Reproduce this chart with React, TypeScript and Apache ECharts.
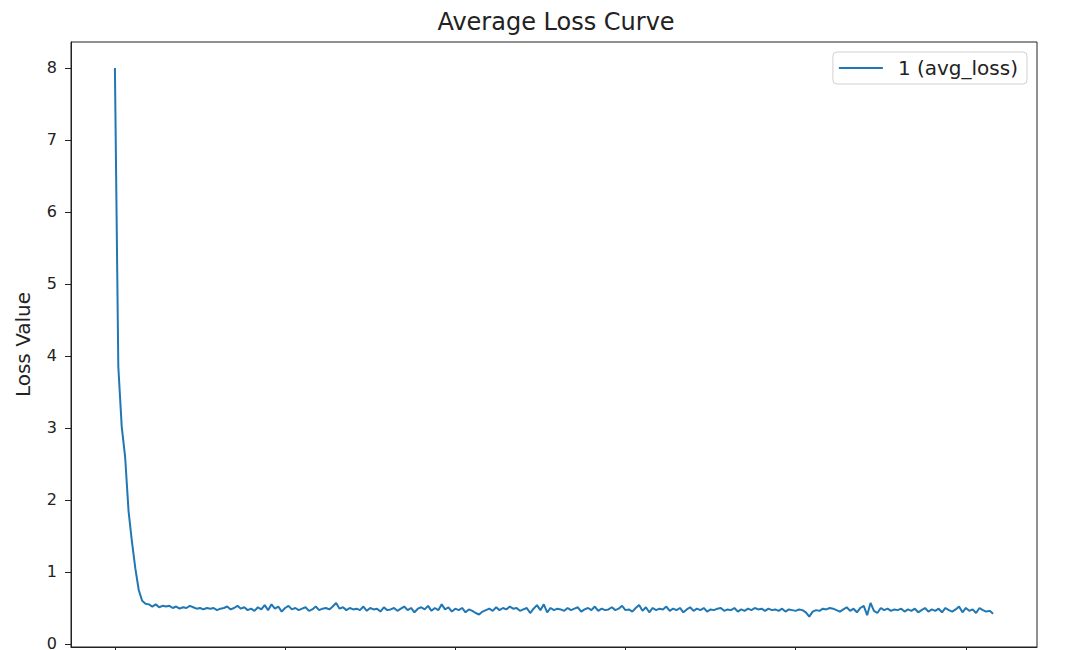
import React, { useEffect, useRef } from "react";
import * as echarts from "echarts";

const seriesName = "1 (avg_loss)";
const yTicks = [0, 1, 2, 3, 4, 5, 6, 7, 8];
const xTicks = [0, 50, 100, 150, 200, 250];
const avgLoss = [
  8.0, 3.85, 3.02, 2.6, 1.85, 1.42, 1.05, 0.75, 0.6, 0.56, 0.55,
  0.52, 0.55, 0.51, 0.53, 0.52, 0.53, 0.50, 0.52, 0.49, 0.51, 0.50, 0.53, 0.51, 0.49, 0.50, 0.48, 0.50, 0.49, 0.50, 0.47,
  0.49, 0.50, 0.52, 0.48, 0.50, 0.53, 0.49, 0.51, 0.47, 0.49, 0.46, 0.51, 0.48, 0.54, 0.47, 0.55, 0.49, 0.52, 0.45, 0.50,
  0.53, 0.48, 0.50, 0.47, 0.49, 0.51, 0.46, 0.48, 0.52, 0.47, 0.49, 0.50, 0.48, 0.52, 0.57, 0.49, 0.51, 0.47, 0.50, 0.48,
  0.49, 0.47, 0.52, 0.46, 0.50, 0.48, 0.49, 0.45, 0.51, 0.47, 0.48, 0.50, 0.46, 0.49, 0.52, 0.47, 0.50, 0.44, 0.49, 0.51,
  0.48, 0.53, 0.46, 0.50, 0.47, 0.55, 0.48, 0.51, 0.45, 0.49, 0.47, 0.50, 0.44, 0.48, 0.46, 0.43, 0.41, 0.45, 0.47, 0.49,
  0.46, 0.51, 0.47, 0.50, 0.48, 0.52, 0.49, 0.50, 0.46, 0.48, 0.50, 0.43, 0.49, 0.54, 0.47, 0.55, 0.44, 0.50, 0.47, 0.49,
  0.48, 0.46, 0.50, 0.47, 0.49, 0.51, 0.45, 0.48, 0.50, 0.47, 0.52, 0.46, 0.49, 0.47, 0.48, 0.51, 0.47, 0.49, 0.53, 0.47,
  0.48, 0.45, 0.50, 0.54, 0.46, 0.51, 0.44, 0.50, 0.47, 0.49, 0.48, 0.52, 0.46, 0.49, 0.47, 0.50, 0.44, 0.48, 0.51, 0.46,
  0.49, 0.47, 0.50, 0.45, 0.48, 0.47, 0.49, 0.50, 0.46, 0.48, 0.47, 0.50, 0.45, 0.48, 0.46, 0.49, 0.47, 0.50, 0.48, 0.49,
  0.46, 0.49, 0.47, 0.48, 0.46, 0.49, 0.45, 0.48, 0.47, 0.46, 0.48, 0.47, 0.44, 0.38, 0.45, 0.47, 0.46, 0.49, 0.48, 0.50,
  0.49, 0.47, 0.45, 0.48, 0.51, 0.46, 0.49, 0.44, 0.50, 0.53, 0.40, 0.57, 0.46, 0.43, 0.50, 0.47, 0.49, 0.46, 0.48, 0.47,
  0.49, 0.45, 0.48, 0.46, 0.49, 0.44, 0.47, 0.50, 0.45, 0.48, 0.46, 0.49, 0.44, 0.50, 0.47, 0.45, 0.48, 0.52, 0.44, 0.50,
  0.46, 0.48, 0.43, 0.50, 0.47, 0.45, 0.46, 0.42,
];

const FONT = "DejaVu Sans";

export default function App() {
  const ref = useRef<HTMLDivElement>(null);
  useEffect(() => {
    document.body.style.margin = "0";
    if (!ref.current) return;
    const chart = echarts.init(ref.current, null, { renderer: "svg" });
    const data = avgLoss.map((v, i) => [i, v]);
    chart.setOption({
      animation: false,
      backgroundColor: "#fff",
      title: {
        text: "Average Loss Curve",
        left: 551,
        textAlign: "center",
        top: 5,
        textStyle: { fontFamily: FONT, fontSize: 24, fontWeight: "normal", color: "#222" },
      },
      legend: {
        right: 53,
        top: 52,
        padding: [6, 9, 6, 6],
        borderColor: "#d0d0d0",
        borderWidth: 1,
        borderRadius: 4,
        backgroundColor: "rgba(255,255,255,0.8)",
        icon: "rect",
        itemWidth: 44,
        itemHeight: 2,
        textStyle: { fontFamily: FONT, fontSize: 20, color: "#222", padding: [0, 0, 0, 10] },
        data: [seriesName],
      },
      grid: {
        left: 71,
        right: 43,
        top: 42,
        bottom: 3,
        outerBoundsMode: "none",
        containLabel: false,
        show: true,
        borderColor: "#222",
        borderWidth: 1,
        backgroundColor: "transparent",
      },
      xAxis: {
        type: "value",
        min: -12.9,
        max: 270.9,
        axisLine: { show: true, onZero: false, lineStyle: { color: "#222", width: 1 } },
        axisTick: { show: true, length: 6, customValues: xTicks, lineStyle: { color: "#222" } },
        axisLabel: { show: false, customValues: xTicks },
        splitLine: { show: false },
      },
      yAxis: {
        type: "value",
        min: -0.042,
        max: 8.361,
        name: "Loss Value",
        nameLocation: "middle",
        nameGap: 38,
        nameTextStyle: { fontFamily: FONT, fontSize: 20, color: "#222" },
        axisLine: { show: true, onZero: false, lineStyle: { color: "#222", width: 1 } },
        axisTick: { show: true, length: 6, customValues: yTicks, lineStyle: { color: "#222" } },
        axisLabel: { show: true, customValues: yTicks, fontFamily: FONT, fontSize: 16, color: "#222", margin: 14 },
        splitLine: { show: false },
      },
      series: [
        {
          name: seriesName,
          type: "line",
          data,
          showSymbol: false,
          symbol: "none",
          lineStyle: { color: "#1f77b4", width: 2 },
          itemStyle: { color: "#1f77b4" },
        },
      ],
    });
    return () => chart.dispose();
  }, []);
  return <div ref={ref} style={{ width: 1080, height: 650 }} />;
}
